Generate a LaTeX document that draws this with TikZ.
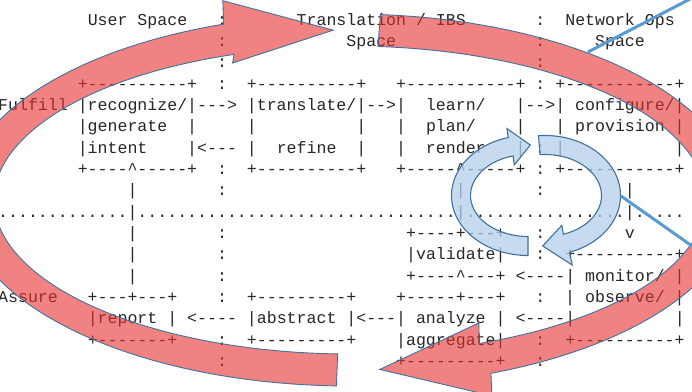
\documentclass[tikz,border=0pt]{standalone}
\usepackage{fontspec}
\setmonofont{Liberation Mono}
\usetikzlibrary{calc}

\definecolor{outlineblue}{RGB}{65,113,156}
\definecolor{arrowred}{RGB}{232,48,48}
\definecolor{arrowblue}{RGB}{180,208,234}
\definecolor{lineblue}{RGB}{91,155,213}

\tikzset{
  asciirow/.style={anchor=base west, inner sep=0pt, text=black!85,
    font=\ttfamily\fontsize{16.58}{21.35}\selectfont},
  redband/.style={fill=arrowred, fill opacity=0.6, draw=outlineblue, line width=0.9pt},
  blueband/.style={fill=arrowblue, fill opacity=0.75, draw=outlineblue, line width=1.1pt},
  calloutline/.style={draw=lineblue, line width=3pt}
}

% blank columns, dot runs and the caret of the ascii chart
\newcommand{\colgap}[1]{\hspace*{#1\dimexpr0.6em\relax}}
\newcommand{\dotrun}[1]{\foreach\dotidx in {1,...,#1}{.}}
\newcommand{\asciicaret}{\symbol{94}}

% curved band arrow on an ellipse:
% center, start, end, tip angle, x radius, y radius, half width, outer barb, inner barb
\newcommand{\bandarrow}[9]{%
  \pgfmathsetmacro\rxo{#5+#7}\pgfmathsetmacro\ryo{#6+#7}%
  \pgfmathsetmacro\rxi{#5-#7}\pgfmathsetmacro\ryi{#6-#7}%
  \pgfmathsetmacro\nrmx{#6*cos(#3)}\pgfmathsetmacro\nrmy{#5*sin(#3)}%
  \pgfmathsetmacro\nrml{veclen(\nrmx,\nrmy)}%
  \pgfmathsetmacro\nrmx{\nrmx/\nrml}\pgfmathsetmacro\nrmy{\nrmy/\nrml}%
  \filldraw ($(#1)+(#2:{\rxo} and {\ryo})$)
    arc[start angle=#2, end angle=#3, x radius=\rxo, y radius=\ryo]
    -- ($(#1)+(#3:{#5} and {#6})+({(#7+#8)*\nrmx},{(#7+#8)*\nrmy})$)
    -- ($(#1)+(#4:{#5} and {#6})$)
    -- ($(#1)+(#3:{#5} and {#6})-({(#7+#9)*\nrmx},{(#7+#9)*\nrmy})$)
    -- ($(#1)+(#3:{\rxi} and {\ryi})$)
    arc[start angle=#3, end angle=#2, x radius=\rxi, y radius=\ryi] -- cycle;}

\begin{document}
\begin{tikzpicture}[x=1pt, y=-1pt]
  \useasboundingbox (0,0) rectangle (692,391);
  \clip (0,0) rectangle (692,391);
  \fill[white] (0,0) rectangle (692,391);

  % ascii chart, one node per text row
  \begin{scope}[shift={(-2,25)}, x=9.95pt, y=-21.35pt]
    \node[asciirow] (spaces) at (9,0) {User~Space\colgap{3}:\colgap{7}Translation~/~IBS\colgap{7}:\colgap{2}Network~Ops};
    \node[asciirow] (spacesb) at (22,1) {:\colgap{12}Space\colgap{14}:\colgap{5}Space};
    \node[asciirow] (spacesc) at (22,2) {:\colgap{31}:};
    \node[asciirow] (boxtop) at (8,3) {+----------+\colgap{2}:\colgap{2}+----------+\colgap{3}+-----------+~:~+-----------+};
    \node[asciirow] (fulfill) at (0,4) {Fulfill~|recognize/|--->~|translate/|-->|\colgap{2}learn/\colgap{3}|-->|~configure/|};
    \node[asciirow] (fulfillb) at (8,5) {|generate\colgap{2}|\colgap{5}|\colgap{10}|\colgap{3}|\colgap{2}plan/\colgap{4}|\colgap{3}|~provision~|};
    \node[asciirow] (fulfillc) at (8,6) {|intent\colgap{4}|<---~|\colgap{2}refine\colgap{2}|\colgap{3}|\colgap{2}render\colgap{3}|~:~|\colgap{11}|};
    \node[asciirow] (boxbot) at (8,7) {+----\asciicaret-----+\colgap{2}:\colgap{2}+----------+\colgap{3}+-----\asciicaret-----+~:~+-----------+};
    \node[asciirow] (links) at (13,8) {|\colgap{8}:\colgap{23}|\colgap{7}:\colgap{8}|};
    \node[asciirow] (divider) at (0,9) {\dotrun{13}|\dotrun{32}|\dotrun{16}|\dotrun{5}};
    \node[asciirow] (valtop) at (13,10) {|\colgap{8}:\colgap{18}+----+---+\colgap{3}:\colgap{8}v};
    \node[asciirow] (validate) at (13,11) {|\colgap{8}:\colgap{18}|validate|\colgap{3}:\colgap{2}+----------+};
    \node[asciirow] (monitor) at (13,12) {|\colgap{8}:\colgap{18}+----\asciicaret---+~<----|~monitor/~|};
    \node[asciirow] (assure) at (0,13) {Assure\colgap{3}+---+---+\colgap{4}:\colgap{2}+---------+\colgap{4}+-----+---+\colgap{3}:\colgap{2}|~observe/~|};
    \node[asciirow] (report) at (9,14) {|report~|~<----~|abstract~|<---|~analyze~|~<----|\colgap{10}|};
    \node[asciirow] (reportbot) at (9,15) {+-------+\colgap{4}:\colgap{2}+---------+\colgap{4}|aggregate|\colgap{3}:\colgap{2}+----------+};
    \node[asciirow] (aggbot) at (22,16) {:\colgap{17}+---------+\colgap{3}:};
  \end{scope}

  % big lifecycle loop
  \coordinate (redc) at (350,200);
  \begin{scope}[redband]
    \bandarrow{redc}{92}{251}{267.4}{372}{170}{16}{23}{8}
    \bandarrow{redc}{274.5}{428.7}{445.4}{372}{170}{16}{22}{20}
  \end{scope}

  % small closed loop
  \coordinate (bluel) at (528,195.5);
  \coordinate (bluer) at (545,195.5);
  \begin{scope}[blueband]
    \bandarrow{bluel}{90}{255}{272}{67}{50.5}{9.5}{9}{9}
    \bandarrow{bluer}{265}{431}{452}{66}{50.5}{9.5}{13}{9}
  \end{scope}

  % callout lines
  \coordinate (calltop) at (692,-2);
  \coordinate (calltopend) at (588,52);
  \coordinate (callside) at (621,196);
  \coordinate (callsideend) at (692,246);
  \draw[calloutline] (calltop) -- (calltopend);
  \draw[calloutline] (callside) -- (callsideend);
\end{tikzpicture}
\end{document}
